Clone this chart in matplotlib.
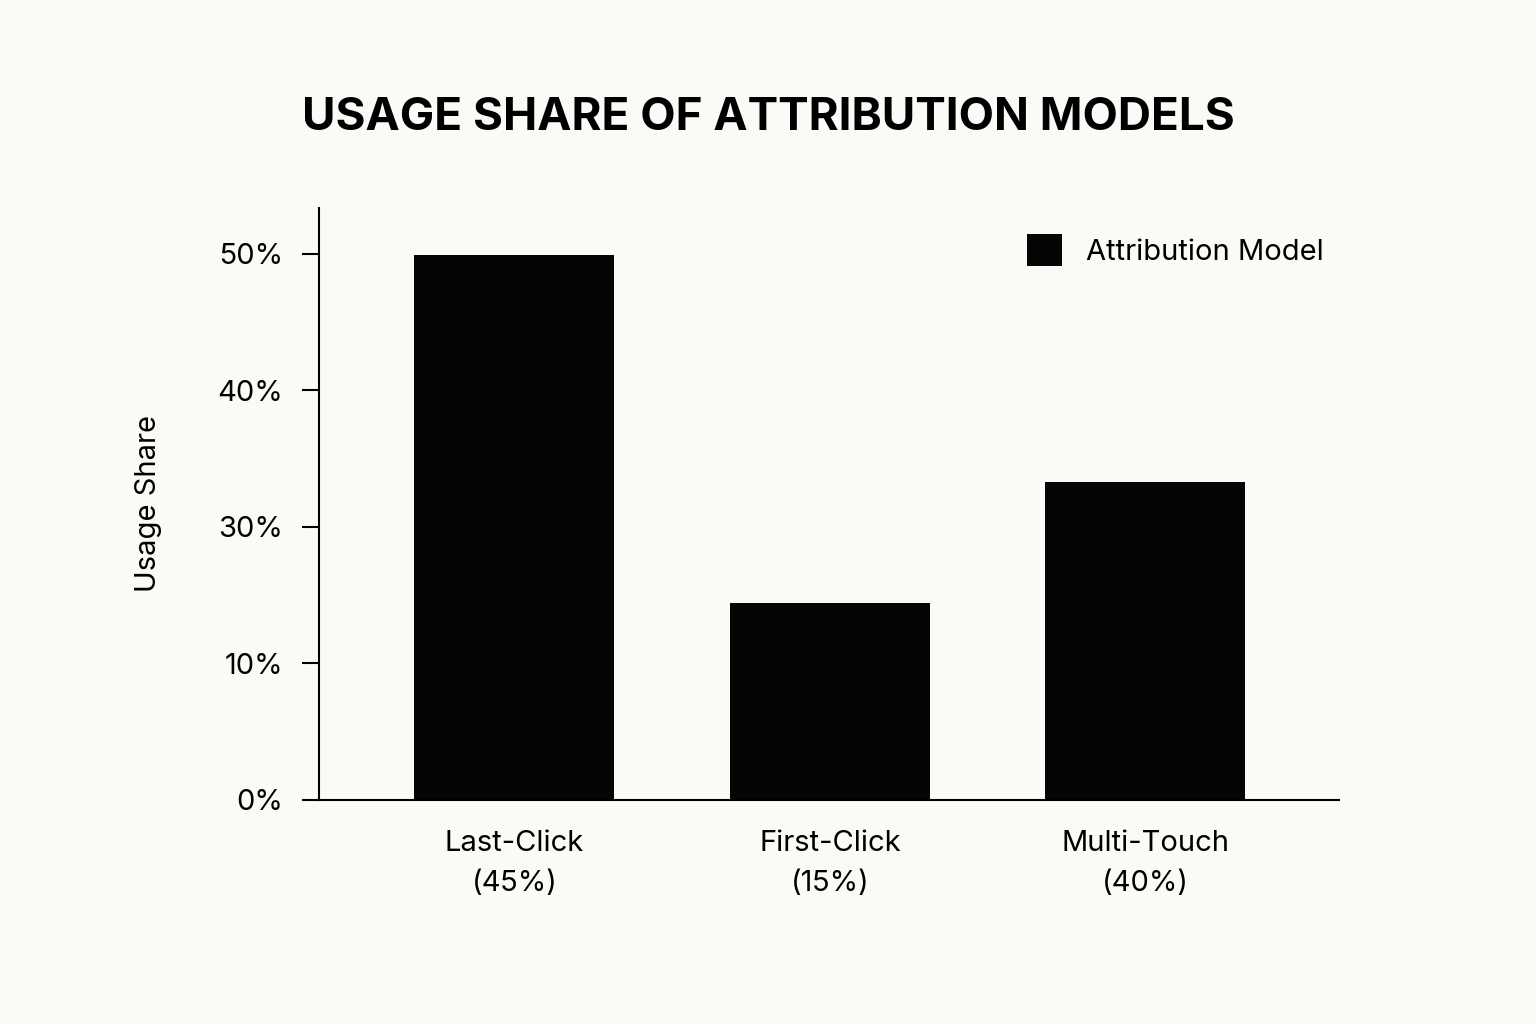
import matplotlib
matplotlib.use("Agg")
import matplotlib.pyplot as plt

categories = ["Last-Click\n(45%)", "First-Click\n(15%)", "Multi-Touch\n(40%)"]
# bar heights in tick-step units (axis ticks evenly spaced, labelled as below)
values = [3.99, 1.44, 2.33]
tick_labels = ["0%", "10%", "30%", "40%", "50%"]

plt.rcParams["font.family"] = "Inter"
bg = "#fbfaf7"
fig = plt.figure(figsize=(15.36, 10.24), dpi=100, facecolor=bg)
ax = fig.add_axes([0.208, 0.219, 0.664, 0.578], facecolor=bg)
ax.bar(range(len(values)), values, width=0.634, color="#050505", label="Attribution Model")
ax.set_xlim(-0.618, 2.615)
ax.set_ylim(0, 4.337)
ax.set_yticks(range(len(tick_labels)))
ax.set_yticklabels(tick_labels, fontsize=21)
ax.set_xticks(range(len(categories)))
ax.set_xticklabels(categories, fontsize=21, linespacing=1.6)
ax.tick_params(axis="y", length=12, width=1.5, pad=14)
ax.tick_params(axis="x", length=0, pad=22)
for s in ["top", "right"]:
    ax.spines[s].set_visible(False)
for s in ["left", "bottom"]:
    ax.spines[s].set_linewidth(1.5)
ax.set_ylabel("Usage Share", fontsize=21, labelpad=40)
ax.legend(loc="upper right", bbox_to_anchor=(1.01, 1.0), frameon=False, fontsize=21,
          handlelength=1.2, handleheight=1.3, handletextpad=0.8)
fig.text(0.5, 0.885, "USAGE SHARE OF ATTRIBUTION MODELS", ha="center", va="center",
         fontsize=33, fontweight="bold")
fig.savefig("out.png", dpi=100, facecolor=bg)
